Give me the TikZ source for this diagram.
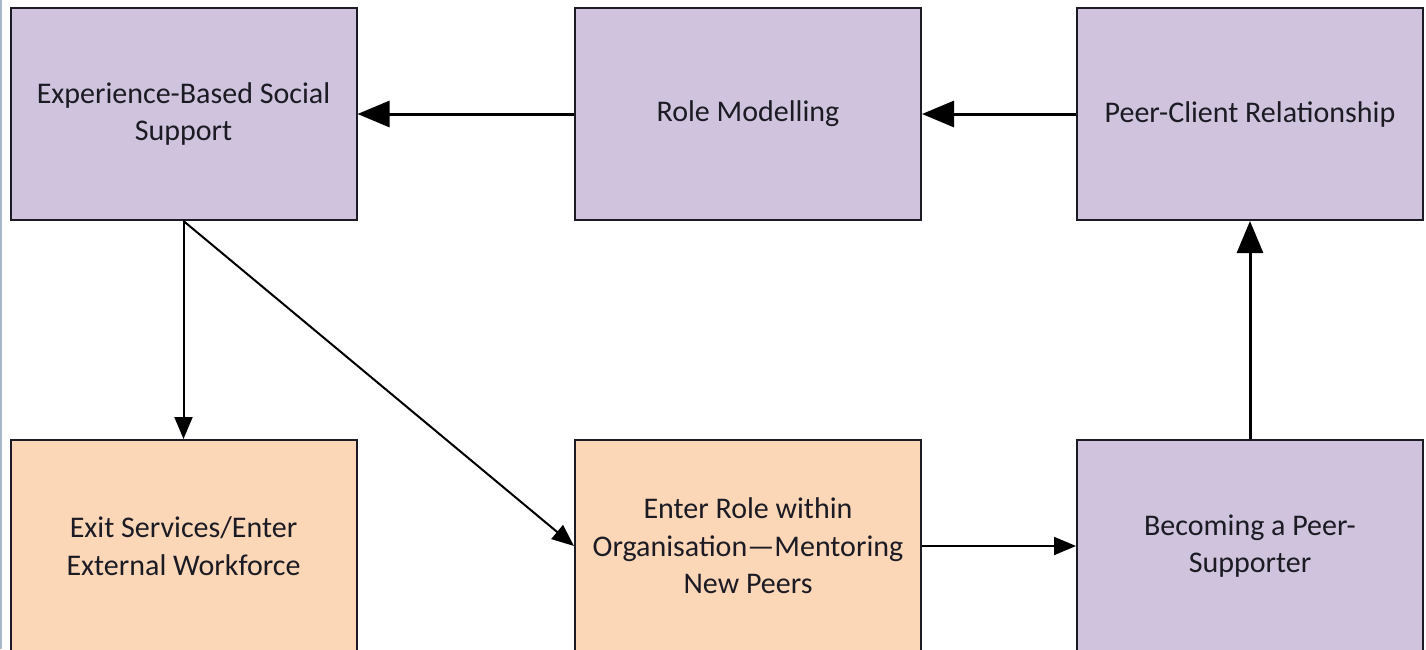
\documentclass[tikz,border=0pt]{standalone}
\usepackage{fontspec}
\setmainfont{Carlito}
\usetikzlibrary{arrows.meta}

\definecolor{lavender}{HTML}{CFC3DE}
\definecolor{peach}{HTML}{FBD6B7}
\definecolor{inkdark}{HTML}{1C1B24}
\definecolor{edgeblue}{HTML}{A9B8C8}

\tikzset{
  x=0.5pt, y=-0.5pt,
  box/.style={draw=inkdark, line width=1pt, minimum width=173pt, minimum height=106pt,
    inner sep=0pt, align=center, text=inkdark,
    font=\fontsize{15}{18.7}\selectfont},
  purplebox/.style={box, fill=lavender},
  orangebox/.style={box, fill=peach},
  heavyflow/.style={draw=black, line width=1.5pt, -{Triangle[length=16pt,width=13pt]}},
  lightflow/.style={draw=black, line width=1pt, -{Triangle[length=11pt,width=9pt]}},
}

\begin{document}
\begin{tikzpicture}
  \useasboundingbox (0,0) rectangle (1426,649);
  \clip (0,0) rectangle (1426,649);
  \fill[white] (0,0) rectangle (1426,649);
  \draw[edgeblue, line width=1pt] (1,0) -- (1,649);

  % upper row
  \node[purplebox] (support)  at (183.5,114) {Experience-Based Social\\Support};
  \node[purplebox] (modelling) at (748,114)  {Role Modelling};
  \node[purplebox] (relation) at (1250,114)  {Peer-Client Relationship};

  % lower row
  \node[orangebox] (exit)     at (183.5,546) {Exit Services/Enter\\External Workforce};
  \node[orangebox] (mentor)   at (748,546)   {Enter Role within\\Organisation—Mentoring\\New Peers};
  \node[purplebox] (becoming) at (1250,546)  {Becoming a Peer-\\Supporter};

  % connectors
  \draw[heavyflow] (modelling.west) -- (support.east);
  \draw[heavyflow] (relation.west) -- (modelling.east);
  \draw[heavyflow] (becoming.north) -- (relation.south);
  \draw[lightflow] (support.south) -- (exit.north);
  \draw[lightflow] (support.south) -- (mentor.west);
  \draw[lightflow] (mentor.east) -- (becoming.west);
\end{tikzpicture}
\end{document}
